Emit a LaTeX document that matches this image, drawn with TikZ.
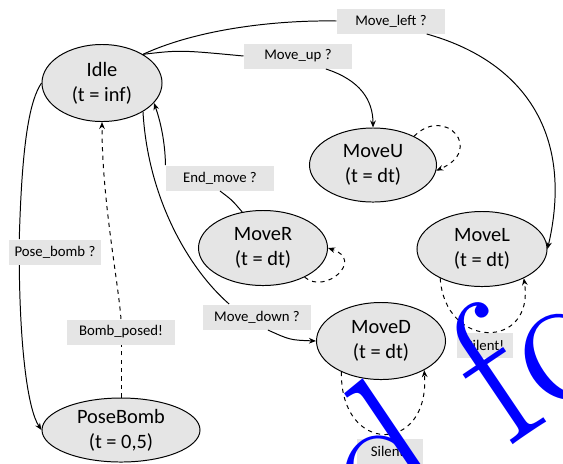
\documentclass[tikz,border=0pt]{standalone}
\usepackage{fontspec}
\setsansfont{Carlito}
\usepackage{tikz}
\usetikzlibrary{arrows.meta,
                 shapes.geometric}
\tikzset{trans/.style = {-{Stealth[length=5pt, width=4pt]}}}
\tikzset{state/.style = {ellipse, draw, fill=gray!20, inner sep=0pt, minimum width=3.225cm, minimum height=1.875cm, align=center, font=\sffamily\fontsize{14.5}{18}\selectfont},
         event/.style = {fill=gray!20, inner sep=0pt, minimum width=2.7cm, minimum height=0.625cm, font=\sffamily\fontsize{10.5}{12}\selectfont}}

\begin{document}
\begin{tikzpicture}[x = 0.025cm, y = -0.025cm, line width = 0.7pt]
\useasboundingbox (0,0) rectangle (563,463);
% states
\node[state, minimum width = 3cm, minimum height = 1.925cm] (idle) at (102,83) {Idle\\(t = inf)};
\node[state, minimum width = 3.175cm, minimum height = 1.85cm] (moveu) at (373,165) {MoveU\\(t = dt)};
\node[state] (mover) at (263,248) {MoveR\\(t = dt)};
\node[state, minimum width = 3.25cm] (movel) at (482,249) {MoveL\\(t = dt)};
\node[state, minimum height = 1.925cm] (moved) at (381,341) {MoveD\\(t = dt)};
\node[state, minimum width = 3.95cm, minimum height = 1.6cm] (posebomb) at (121,430) {PoseBomb\\(t = 0,5)};
% events
\node[event] (lmoveleft) at (391,21) {Move\_left ?};
\node[event] (lmoveup) at (298,56) {Move\_up ?};
\node[event] (lendmove) at (220,178) {End\_move ?};
\node[event, minimum width = 2.3cm] (lposebomb) at (55,252) {Pose\_bomb ?};
\node[event] (lbombposed) at (121,332) {Bomb\_posed!};
\node[event] (lmovedown) at (257,317) {Move\_down ?};
\node[event, minimum width = 1.4cm] (lsilentl) at (485,345) {Silent!};
\node[event, minimum width = 1.625cm] (lsilentd) at (390,451) {Silent!};
% transitions
\draw (idle.35) .. controls (200,28) and (280,20) .. (lmoveleft.west);
\draw [trans] (lmoveleft.-20) .. controls (520,60) and (575,130) .. (movel.east);
\draw (idle.35) .. controls (180,50) .. (lmoveup.west);
\draw [trans] (lmoveup.-25) .. controls (360,80) and (373,100) .. (moveu.north);
\draw (mover.120) .. controls (232,200) .. (lendmove.south);
\draw [trans] (lendmove.north west) .. controls (165,140) and (160,120) .. (idle.-21);
\draw (idle.-35) .. controls (148,200) and (190,270) .. (lmovedown.155);
\draw [trans] (lmovedown.-50) .. controls (290,340) .. (moved.west);
\draw (idle.west) .. controls (30,100) and (22,140) .. (lposebomb.160);
\draw [trans] (lposebomb.200) .. controls (20,350) and (28,410) .. (posebomb.west);
\draw [dashed] (posebomb.north) -- (lbombposed.south);
\draw [dashed,trans] (lbombposed.north) .. controls (118,280) and (102,200) .. (idle.south);
% silent loops
\draw [dashed,trans] (moveu.35) .. controls (445,105) and (485,150) .. (moveu.-5);
\draw [dashed,trans] (mover.-35) .. controls (325,295) and (365,260) .. (mover.east);
\draw [dashed,trans] (movel.215) .. controls (445,350) and (535,350) .. (movel.-35);
\draw [dashed,trans] (moved.218) .. controls (340,455) and (430,455) .. (moved.-34);
% overlay
\node[blue, rotate = 34, anchor = base west, inner sep = 0pt, font = \rmfamily\fontsize{142}{142}\selectfont] (stamp) at (372,540) {d fc};
\end{tikzpicture}
\end{document}
